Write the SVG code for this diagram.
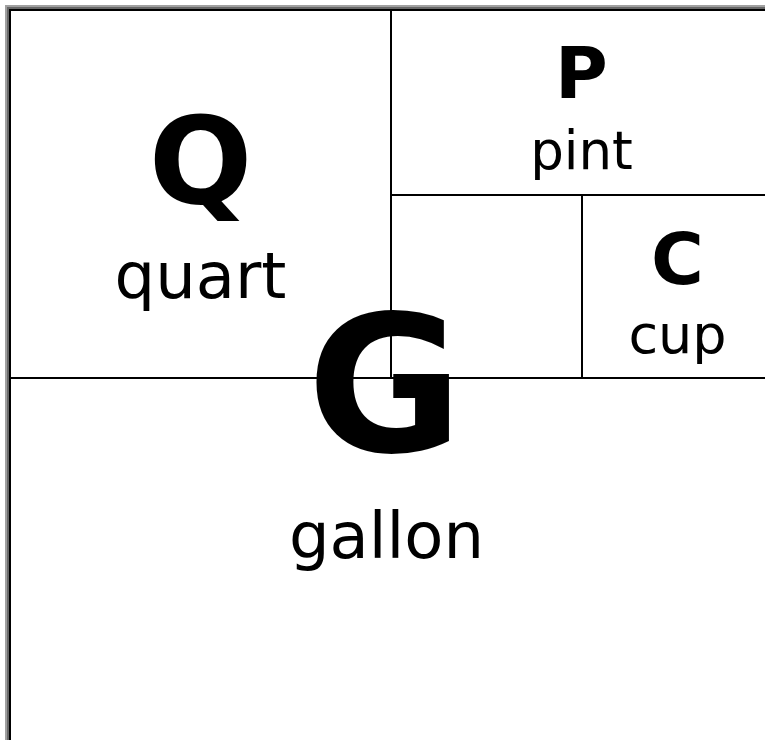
<svg xmlns="http://www.w3.org/2000/svg" width="765" height="740" viewBox="0 0 765 740">
<style>
.ln{stroke:#000;stroke-width:2;fill:none}
.big{font-family:"DejaVu Sans",sans-serif;font-weight:bold;text-anchor:middle;fill:#000}
.sm{font-family:"DejaVu Sans",sans-serif;text-anchor:middle;fill:#000}
</style>
<rect width="765" height="740" fill="#fff"/>
<g id="frame">
<path d="M6,740 V6 H765" stroke="#a0a0a0" stroke-width="2" fill="none"/>
<path d="M8,740 V8 H765" stroke="#686868" stroke-width="2" fill="none"/>
<path d="M10,740 V10 H765" stroke="#000" stroke-width="2" fill="none"/>
</g>
<g id="connectors">
<line class="ln" x1="391" y1="10" x2="391" y2="378"/>
<line class="ln" x1="391" y1="195" x2="765" y2="195"/>
<line class="ln" x1="10" y1="378" x2="765" y2="378"/>
<line class="ln" x1="582" y1="195" x2="582" y2="378"/>
</g>
<g id="quart">
<text class="big" x="200.5" y="203" font-size="122">Q</text>
<text class="sm" x="200.5" y="298" font-size="64">quart</text>
</g>
<g id="pint">
<text class="big" x="581.5" y="98" font-size="72">P</text>
<text class="sm" x="581.5" y="169" font-size="53">pint</text>
</g>
<g id="cup">
<text class="big" x="677.5" y="284" font-size="72">C</text>
<text class="sm" x="677.5" y="353" font-size="54">cup</text>
</g>
<g id="gallon">
<text class="big" x="385" y="451" font-size="190">G</text>
<text class="sm" x="386.5" y="558" font-size="64">gallon</text>
</g>
</svg>
